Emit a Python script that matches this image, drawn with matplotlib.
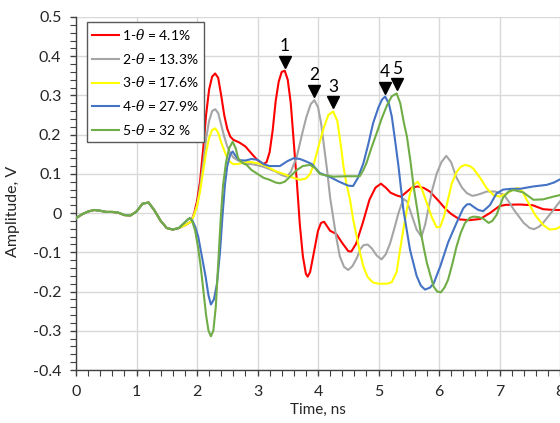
import numpy as np
import matplotlib
matplotlib.use('Agg')
import matplotlib.pyplot as plt
from matplotlib.ticker import MultipleLocator, FuncFormatter
from matplotlib.transforms import offset_copy

plt.rcParams.update({'font.family': ['Lato', 'DejaVu Sans'], 'font.size': 11.5,
                     'mathtext.fontset': 'dejavuserif'})

# shared start of all five traces (0 .. 1.8 ns)
t_common = [0.0, 0.1, 0.2, 0.3, 0.4, 0.5, 0.6, 0.7, 0.8, 0.9, 1.0, 1.1, 1.2, 1.3,
            1.4, 1.5, 1.6, 1.7, 1.8]
v_common = [-0.013, -0.003, 0.004, 0.008, 0.006, 0.003, 0.003, 0.001, -0.005, -0.006,
            0.004, 0.024, 0.027, 0.006, -0.02, -0.038, -0.042, -0.038, -0.031]

t1 = [1.9, 1.95, 2.0, 2.05, 2.1, 2.15, 2.2, 2.25, 2.3, 2.35, 2.4, 2.45, 2.5, 2.55, 2.6,
      2.7, 2.8, 2.9, 3.0, 3.1, 3.15, 3.2, 3.25, 3.3, 3.35, 3.4, 3.45, 3.5, 3.55, 3.6,
      3.65, 3.7, 3.75, 3.8, 3.83, 3.87, 3.92, 4.0, 4.05, 4.1, 4.2, 4.3, 4.4, 4.5, 4.55,
      4.63, 4.74, 4.85, 4.95, 5.04, 5.12, 5.2, 5.3, 5.37, 5.45, 5.55, 5.65, 5.75, 5.85,
      6.0, 6.1, 6.2, 6.34, 6.5, 6.68, 6.84, 7.0, 7.1, 7.33, 7.55, 7.72, 7.89, 8.0]
v1 = [-0.022, -0.002, 0.03, 0.08, 0.16, 0.25, 0.315, 0.348, 0.356, 0.345, 0.30, 0.25,
      0.215, 0.195, 0.187, 0.18, 0.17, 0.152, 0.135, 0.125, 0.13, 0.155, 0.21, 0.285,
      0.335, 0.36, 0.363, 0.34, 0.28, 0.18, 0.08, -0.03, -0.11, -0.155, -0.162, -0.15,
      -0.11, -0.045, -0.025, -0.022, -0.045, -0.053, -0.076, -0.097, -0.098, -0.078,
      -0.025, 0.034, 0.065, 0.075, 0.065, 0.052, 0.045, 0.042, 0.052, 0.065, 0.068,
      0.064, 0.055, 0.03, 0.012, -0.002, -0.016, -0.018, -0.015, 0.0, 0.018, 0.021,
      0.022, 0.02, 0.01, 0.008, 0.008]

t2 = [1.9, 1.95, 2.0, 2.05, 2.1, 2.15, 2.2, 2.25, 2.3, 2.35, 2.4, 2.45, 2.5, 2.55, 2.6,
      2.67, 2.8, 2.9, 3.0, 3.1, 3.2, 3.3, 3.4, 3.48, 3.55, 3.65, 3.75, 3.81, 3.88, 3.94,
      4.0, 4.05, 4.1, 4.15, 4.2, 4.25, 4.3, 4.36, 4.43, 4.5, 4.57, 4.64, 4.7, 4.75, 4.82,
      4.89, 4.97, 5.05, 5.12, 5.19, 5.26, 5.33, 5.41, 5.47, 5.52, 5.63, 5.71, 5.77, 5.82,
      5.89, 5.96, 6.04, 6.12, 6.2, 6.29, 6.38, 6.46, 6.55, 6.62, 6.7, 6.79, 6.93, 7.07,
      7.15, 7.24, 7.4, 7.5, 7.57, 7.65, 7.72, 7.89, 8.0]
v2 = [-0.022, -0.004, 0.02, 0.065, 0.125, 0.19, 0.235, 0.26, 0.265, 0.255, 0.225, 0.195,
      0.17, 0.153, 0.142, 0.135, 0.125, 0.125, 0.122, 0.118, 0.112, 0.106, 0.097, 0.093,
      0.105, 0.144, 0.21, 0.246, 0.278, 0.288, 0.27, 0.23, 0.17, 0.11, 0.04, -0.01, -0.06,
      -0.11, -0.137, -0.145, -0.135, -0.115, -0.092, -0.082, -0.08, -0.09, -0.108, -0.118,
      -0.105, -0.078, -0.04, 0.0, 0.036, 0.03, 0.008, -0.042, -0.06, -0.03, 0.008, 0.06,
      0.1, 0.13, 0.146, 0.13, 0.09, 0.065, 0.051, 0.044, 0.046, 0.05, 0.055, 0.055, 0.047,
      0.03, 0.008, -0.025, -0.038, -0.041, -0.035, -0.025, 0.008, 0.03]

t3 = [1.9, 1.95, 2.0, 2.05, 2.1, 2.15, 2.2, 2.25, 2.3, 2.35, 2.4, 2.45, 2.5, 2.55, 2.6,
      2.67, 2.8, 2.9, 3.0, 3.1, 3.2, 3.3, 3.43, 3.55, 3.7, 3.8, 3.87, 3.93, 4.0, 4.09,
      4.17, 4.25, 4.32, 4.38, 4.42, 4.47, 4.53, 4.58, 4.64, 4.7, 4.75, 4.82, 4.91, 5.0,
      5.14, 5.22, 5.3, 5.35, 5.41, 5.47, 5.52, 5.58, 5.65, 5.72, 5.8, 5.88, 5.96, 6.02,
      6.08, 6.15, 6.21, 6.29, 6.36, 6.43, 6.51, 6.57, 6.68, 6.79, 6.9, 7.0, 7.12, 7.25,
      7.31, 7.38, 7.45, 7.59, 7.72, 7.83, 7.94, 8.0]
v3 = [-0.022, -0.006, 0.018, 0.055, 0.105, 0.155, 0.192, 0.212, 0.216, 0.205, 0.18, 0.16,
      0.14, 0.13, 0.125, 0.125, 0.13, 0.13, 0.127, 0.123, 0.115, 0.107, 0.10, 0.092,
      0.085, 0.088, 0.10, 0.125, 0.165, 0.215, 0.25, 0.259, 0.235, 0.17, 0.119, 0.075,
      0.034, -0.015, -0.06, -0.105, -0.136, -0.163, -0.177, -0.18, -0.18, -0.176, -0.15,
      -0.1, -0.042, 0.01, 0.05, 0.072, 0.08, 0.06, 0.025, -0.01, -0.036, -0.035, -0.01,
      0.035, 0.075, 0.105, 0.118, 0.123, 0.12, 0.113, 0.09, 0.063, 0.046, 0.042, 0.05,
      0.062, 0.064, 0.055, 0.034, -0.005, -0.03, -0.042, -0.04, -0.035]

t4 = [1.85, 1.88, 1.92, 1.97, 2.02, 2.08, 2.14, 2.19, 2.23, 2.28, 2.33, 2.38, 2.42,
      2.46, 2.5, 2.55, 2.59, 2.64, 2.7, 2.8, 2.9, 3.0, 3.1, 3.2, 3.37, 3.5, 3.6, 3.7,
      3.8, 3.9, 4.03, 4.2, 4.35, 4.5, 4.58, 4.66, 4.75, 4.83, 4.91, 5.0, 5.06, 5.11,
      5.17, 5.22, 5.27, 5.33, 5.41, 5.52, 5.63, 5.7, 5.77, 5.85, 5.91, 6.02, 6.15, 6.29,
      6.4, 6.46, 6.51, 6.58, 6.65, 6.73, 6.84, 6.95, 7.06, 7.2, 7.34, 7.56, 7.78, 7.9, 8.0]
v4 = [-0.016, -0.013, -0.018, -0.035, -0.06, -0.11, -0.16, -0.21, -0.233, -0.22, -0.18,
      -0.1, -0.01, 0.07, 0.12, 0.15, 0.157, 0.145, 0.135, 0.134, 0.138, 0.136, 0.125,
      0.12, 0.12, 0.133, 0.14, 0.138, 0.132, 0.125, 0.102, 0.092, 0.08, 0.07, 0.069, 0.09,
      0.127, 0.175, 0.229, 0.27, 0.29, 0.297, 0.28, 0.246, 0.19, 0.12, 0.01, -0.093,
      -0.16, -0.185, -0.195, -0.19, -0.18, -0.136, -0.075, -0.025, 0.012, 0.022, 0.023,
      0.015, 0.008, 0.005, 0.02, 0.05, 0.06, 0.062, 0.062, 0.068, 0.072, 0.078, 0.086]

t5 = [1.85, 1.88, 1.92, 1.97, 2.02, 2.06, 2.1, 2.15, 2.19, 2.23, 2.27, 2.31, 2.35, 2.39,
      2.43, 2.48, 2.53, 2.59, 2.64, 2.68, 2.75, 2.82, 2.9, 3.0, 3.1, 3.2, 3.3, 3.37, 3.45,
      3.55, 3.65, 3.75, 3.87, 3.95, 4.03, 4.1, 4.25, 4.47, 4.69, 4.75, 4.8, 4.88, 4.97,
      5.05, 5.14, 5.22, 5.3, 5.36, 5.42, 5.47, 5.53, 5.58, 5.64, 5.69, 5.75, 5.8, 5.86,
      5.91, 5.97, 6.03, 6.09, 6.15, 6.22, 6.29, 6.36, 6.43, 6.51, 6.57, 6.65, 6.73, 6.82,
      6.88, 6.95, 7.01, 7.06, 7.15, 7.23, 7.39, 7.56, 7.72, 7.89, 8.0]
v5 = [-0.016, -0.013, -0.02, -0.045, -0.09, -0.135, -0.19, -0.26, -0.3, -0.314, -0.3,
      -0.24, -0.13, -0.02, 0.07, 0.13, 0.165, 0.182, 0.165, 0.14, 0.128, 0.123, 0.11,
      0.1, 0.09, 0.085, 0.078, 0.076, 0.08, 0.095, 0.11, 0.12, 0.123, 0.115, 0.1, 0.097,
      0.093, 0.094, 0.094, 0.11, 0.127, 0.165, 0.204, 0.24, 0.275, 0.298, 0.305, 0.28,
      0.23, 0.195, 0.13, 0.068, 0.01, -0.042, -0.09, -0.127, -0.16, -0.187, -0.2, -0.202,
      -0.19, -0.17, -0.13, -0.085, -0.05, -0.025, -0.012, -0.009, -0.01, -0.014, -0.025,
      -0.02, -0.005, 0.02, 0.04, 0.055, 0.059, 0.053, 0.034, 0.035, 0.042, 0.046]

labels = ['1-$\\theta$ = 4.1%', '2-$\\theta$ = 13.3%', '3-$\\theta$ = 17.6%',
          '4-$\\theta$ = 27.9%', '5-$\\theta$ = 32 %']
colors = ['#ff0000', '#a5a5a5', '#ffff00', '#4472c4', '#70ad47']
peak_names = ['1', '2', '3', '4', '5']

series = []
for t, v in [(t1, v1), (t2, v2), (t3, v3)]:
    series.append((t_common + t, v_common + v))
for t, v in [(t4, v4), (t5, v5)]:
    series.append((t_common[:-1] + t, v_common[:-1] + v))

fig = plt.figure(figsize=(5.6, 4.23), dpi=100)
ax = fig.add_axes([76 / 560, 53 / 423, 484 / 560, 353 / 423])

for (t, v), c, lab in zip(series, colors, labels):
    ax.plot(t, v, color=c, lw=1.5, label=lab, zorder=3)

# peak markers: black triangle just above each peak, number above it
tri_tr = offset_copy(ax.transData, fig=fig, x=0, y=6.5, units='points')
for (t, v), name in zip(series, peak_names):
    i = int(np.argmax(v))
    ax.plot(t[i], v[i], marker='v', color='black', ms=9, transform=tri_tr,
            clip_on=False, zorder=5)
    ax.annotate(name, xy=(t[i], v[i]), xytext=(0, 12), textcoords='offset points',
                ha='center', va='bottom', fontsize=12.5, color='black')

ax.set_xlim(0, 8)
ax.set_ylim(-0.4, 0.5)
ax.xaxis.set_major_locator(MultipleLocator(1))
ax.xaxis.set_minor_locator(MultipleLocator(0.2))
ax.yaxis.set_major_locator(MultipleLocator(0.1))
ax.yaxis.set_minor_locator(MultipleLocator(0.02))
ax.yaxis.set_major_formatter(FuncFormatter(lambda y, p: '%g' % round(y, 2)))
ax.grid(True, which='major', color='#d9d9d9', lw=1.0, zorder=0)
ax.set_axisbelow(True)
for s in ['top', 'right']:
    ax.spines[s].set_visible(False)
for s in ['left', 'bottom']:
    ax.spines[s].set_color('#404040')
    ax.spines[s].set_linewidth(1.0)
ax.tick_params(which='major', direction='out', length=4.5, width=1, color='#404040',
               labelsize=11.5, labelcolor='#262626')
ax.tick_params(which='minor', direction='out', length=4, width=0.8, color='#404040')
ax.tick_params(axis='y', which='major', pad=6)
ax.tick_params(axis='x', which='major', pad=6)

ax.set_xlabel('Time, ns', fontsize=11, color='#262626', labelpad=3)
ax.set_ylabel('Amplitude, V', fontsize=11.5, color='#262626')
ax.yaxis.set_label_coords(-0.115, 0.45)

leg = ax.legend(loc='upper left', bbox_to_anchor=(0.022, 0.987), frameon=True,
                fancybox=False, edgecolor='#595959', handlelength=1.9,
                handletextpad=0.25, labelspacing=0.62, borderpad=0.4,
                fontsize=10, borderaxespad=0)
leg.get_frame().set_linewidth(1.0)
leg.get_frame().set_alpha(1)

fig.savefig('out.png', dpi=100)
